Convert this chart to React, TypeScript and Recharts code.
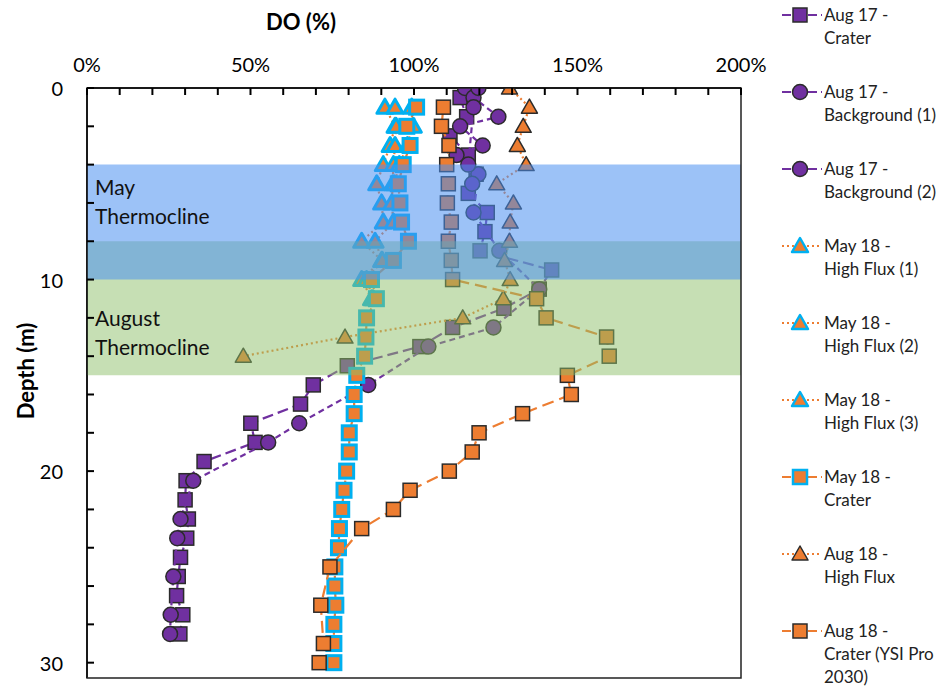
import React from 'react';
import { ScatterChart, Scatter, XAxis, YAxis, ReferenceArea, Label } from 'recharts';

// depth (m) / dissolved oxygen saturation (%) per cast
const AUG17_CRATER_DEPTH = [0.5, 1.5, 2.5, 3.5, 4.5, 5.5, 6.5, 7.5, 8.5, 9.5, 10.5, 11.5, 12.5, 13.5, 14.5, 15.5, 16.5, 17.5, 18.5, 19.5, 20.5, 21.5, 22.5, 23.5, 24.5, 25.5, 26.5, 27.5, 28.5];
const AUG17_CRATER_DO = [114.1, 116.1, 111, 116.6, 119, 116.6, 122.4, 121.7, 120.2, 142.1, 138.3, 127.5, 111.8, 101.8, 79.6, 69.2, 65.3, 50.1, 51.4, 35.8, 30.3, 30.0, 31.0, 30.5, 28.6, 27.9, 27.4, 29.3, 28.4];

const AUG17_BG1_DEPTH = [0, 0.5, 1.5, 2, 3, 3.5, 4.5, 6.5, 8.5, 10.5, 12.5, 13.5, 15.5, 17.5, 18.5, 20.5, 22.5, 23.5, 25.5, 27.5, 28.5];
const AUG17_BG1_DO = [115.6, 118.2, 125.8, 114.1, 121, 113, 119.7, 118.2, 126.1, 138.3, 124.3, 104.4, 86, 64.9, 55.4, 32.5, 28.6, 27.6, 26.4, 25.6, 25.4];

const AUG17_BG2_DEPTH = [0, 1, 4, 5];
const AUG17_BG2_DO = [119.7, 118.2, 116.6, 117.8];

const MAY18_HF1_DEPTH = [1, 2, 3, 4, 5, 6, 7, 8, 9, 10, 11];
const MAY18_HF1_DO = [91.1, 94.2, 92.7, 90.6, 88.6, 90.1, 90.6, 84.0, 90.1, 84.0, 87.0];

const MAY18_HF2_DEPTH = [1, 2, 3, 4, 5, 6, 7, 8, 9, 10, 11];
const MAY18_HF2_DO = [94.2, 94.5, 94.2, 93.7, 93.5, 93.2, 93.7, 88.1, 90.3, 85.5, 87.5];

const MAY18_HF3_DEPTH = [1, 2, 3, 4, 5];
const MAY18_HF3_DO = [99.3, 99.8, 98.0, 95.5, 94.0];

const MAY18_CRATER_DEPTH = [1, 2, 3, 4, 5, 6, 7, 8, 9, 10, 11, 12, 13, 14, 15, 16, 17, 18, 19, 20, 21, 22, 23, 24, 25, 26, 27, 28, 29, 30];
const MAY18_CRATER_DO = [100.8, 97.8, 98.8, 96.7, 95.2, 95.7, 96.2, 98.3, 93.7, 87, 88.5, 85.5, 85.3, 84.9, 82.5, 81.7, 81.7, 80.2, 80.2, 79.4, 78.6, 77.9, 77.2, 76.9, 75.8, 75.8, 76.1, 75.5, 75.5, 75.5];

const AUG18_HF_DEPTH = [0, 1, 2, 3, 4, 5, 6, 7, 8, 9, 10, 11, 12, 13, 14];
const AUG18_HF_DO = [129.2, 135.3, 133.4, 131.6, 134.3, 125.3, 130.4, 129.4, 129.2, 127.7, 129.4, 127.3, 114.9, 78.9, 47.8];

const AUG18_CRATER_DEPTH = [1, 2, 3, 4, 5, 6, 7, 8, 9, 10, 11, 12, 13, 14, 15, 16, 17, 18, 19, 20, 21, 22, 23, 25, 27, 29, 30];
const AUG18_CRATER_DO = [109, 108.4, 110.7, 110, 110.5, 110.2, 111.4, 110.5, 111.4, 111.8, 137.5, 140.4, 158.9, 159.7, 146.9, 148.1, 133.2, 119.9, 117.8, 110.8, 98.8, 93.7, 84.0, 74.3, 71.5, 72.3, 71.0];

const X_TICKS = [0, 10, 20, 30, 40, 50, 60, 70, 80, 90, 100, 110, 120, 130, 140, 150, 160, 170, 180, 190, 200];
const Y_TICKS = [0, 2, 4, 6, 8, 10, 12, 14, 16, 18, 20, 22, 24, 26, 28, 30];

const PURPLE = '#7030A0';
const ORANGE = '#ED7D31';
const BLUE = '#00B0F0';
const DARK = '#2b2b2b';
const FONT = 'Lato, "Open Sans", sans-serif';

const pairs = (depth: number[], dox: number[]) => depth.map((d, i) => ({ x: dox[i], y: d }));

type Marker = 'square' | 'circle' | 'triangle';

const series = [
  { key: 'a17c', name: ['Aug 17 -', 'Crater'], data: pairs(AUG17_CRATER_DEPTH, AUG17_CRATER_DO), marker: 'square' as Marker, fill: PURPLE, stroke: DARK, sw: 1.5, line: PURPLE, dash: '11 5' },
  { key: 'a17b1', name: ['Aug 17 -', 'Background (1)'], data: pairs(AUG17_BG1_DEPTH, AUG17_BG1_DO), marker: 'circle' as Marker, fill: PURPLE, stroke: DARK, sw: 1.5, line: PURPLE, dash: '6 4' },
  { key: 'a17b2', name: ['Aug 17 -', 'Background (2)'], data: pairs(AUG17_BG2_DEPTH, AUG17_BG2_DO), marker: 'circle' as Marker, fill: PURPLE, stroke: DARK, sw: 1.5, line: PURPLE, dash: '6 4' },
  { key: 'm18h1', name: ['May 18 -', 'High Flux (1)'], data: pairs(MAY18_HF1_DEPTH, MAY18_HF1_DO), marker: 'triangle' as Marker, fill: ORANGE, stroke: BLUE, sw: 3, line: ORANGE, dash: '2 3' },
  { key: 'm18h2', name: ['May 18 -', 'High Flux (2)'], data: pairs(MAY18_HF2_DEPTH, MAY18_HF2_DO), marker: 'triangle' as Marker, fill: ORANGE, stroke: BLUE, sw: 3, line: ORANGE, dash: '2 3' },
  { key: 'm18h3', name: ['May 18 -', 'High Flux (3)'], data: pairs(MAY18_HF3_DEPTH, MAY18_HF3_DO), marker: 'triangle' as Marker, fill: ORANGE, stroke: BLUE, sw: 3, line: ORANGE, dash: '2 3' },
  { key: 'm18c', name: ['May 18 -', 'Crater'], data: pairs(MAY18_CRATER_DEPTH, MAY18_CRATER_DO), marker: 'square' as Marker, fill: ORANGE, stroke: BLUE, sw: 3, line: ORANGE, dash: '11 5' },
  { key: 'a18h', name: ['Aug 18 -', 'High Flux'], data: pairs(AUG18_HF_DEPTH, AUG18_HF_DO), marker: 'triangle' as Marker, fill: ORANGE, stroke: DARK, sw: 1.5, line: ORANGE, dash: '2 3' },
  { key: 'a18c', name: ['Aug 18 -', 'Crater (YSI Pro', '2030)'], data: pairs(AUG18_CRATER_DEPTH, AUG18_CRATER_DO), marker: 'square' as Marker, fill: ORANGE, stroke: DARK, sw: 1.5, line: ORANGE, dash: '12 6' },
];

const drawMarker = (m: Marker, cx: number, cy: number, fill: string, stroke: string, sw: number) => {
  if (m === 'square') return <rect x={cx - 7} y={cy - 7} width={14} height={14} fill={fill} stroke={stroke} strokeWidth={sw} />;
  if (m === 'circle') return <circle cx={cx} cy={cy} r={7.5} fill={fill} stroke={stroke} strokeWidth={sw} />;
  return <polygon points={`${cx},${cy - 8} ${cx + 8},${cy + 6} ${cx - 8},${cy + 6}`} fill={fill} stroke={stroke} strokeWidth={sw} strokeLinejoin="round" />;
};

const TopTick = (props: any) => {
  const { x, y, payload } = props;
  const v = payload.value;
  return (
    <g>
      <line x1={x} y1={y} x2={x} y2={y + 7} stroke="#000" strokeWidth={2} />
      {v % 50 === 0 && (
        <text x={x} y={y - 24} textAnchor="middle" dominantBaseline="central" fontSize={20} fill="#000" fontFamily={FONT}>
          {v}%
        </text>
      )}
    </g>
  );
};

const LeftTick = (props: any) => {
  const { x, y, payload } = props;
  const v = payload.value;
  return (
    <g>
      <line x1={x} y1={y} x2={x + 7} y2={y} stroke="#000" strokeWidth={2} />
      {v % 10 === 0 && (
        <text x={x - 24} y={y} textAnchor="end" dominantBaseline="central" fontSize={20} fill="#000" fontFamily={FONT}>
          {v}
        </text>
      )}
    </g>
  );
};

const bandLabel = (lines: string[], dy: number) => (props: any) => {
  const { viewBox } = props;
  return (
    <text x={viewBox.x + 8} y={viewBox.y + dy} fontSize={21} fill="#111" fontFamily={FONT}>
      {lines.map((l, i) => (
        <tspan key={l} x={viewBox.x + 8} dy={i === 0 ? 0 : 29}>{l}</tspan>
      ))}
    </text>
  );
};

const LegendBlock = () => (
  <div style={{ position: 'absolute', left: 780, top: 0, fontFamily: FONT, fontSize: 17, color: '#222' }}>
    {series.map((s, i) => (
      <div key={s.key} style={{ position: 'absolute', top: 3 + i * 77, left: 0, width: 166 }}>
        <svg width={44} height={24} style={{ position: 'absolute', left: 0, top: 0 }}>
          <line x1={2} y1={12} x2={42} y2={12} stroke={s.line} strokeWidth={2} strokeDasharray={s.dash === '2 3' ? '2 3' : '9 4'} />
          {drawMarker(s.marker, 20, 12, s.fill, s.stroke, s.sw === 3 ? 2.5 : 1.5)}
        </svg>
        <div style={{ position: 'absolute', left: 44, top: 0, lineHeight: '23px', whiteSpace: 'nowrap' }}>
          {s.name.map((t) => (
            <div key={t}>{t}</div>
          ))}
        </div>
      </div>
    ))}
  </div>
);

export default function App() {
  return (
    <div style={{ position: 'absolute', left: 0, top: 0, width: 946, height: 694, background: '#fff' }}>
      <ScatterChart width={946} height={694} margin={{ top: 48, right: 205, bottom: 16, left: 27 }}>
        <XAxis
          type="number"
          dataKey="x"
          orientation="top"
          domain={[0, 200]}
          ticks={X_TICKS}
          interval={0}
          height={40}
          tickSize={0}
          tickMargin={0}
          tick={<TopTick />}
          axisLine={{ stroke: '#000', strokeWidth: 2 }}
        >
          <Label
            content={(p: any) => (
              <text x={301} y={21} textAnchor="middle" dominantBaseline="central" fontSize={22} fontWeight="bold" fill="#000" fontFamily={FONT}>
                DO (%)
              </text>
            )}
          />
        </XAxis>
        <YAxis
          type="number"
          dataKey="y"
          reversed
          domain={[0, 30.8]}
          ticks={Y_TICKS}
          interval={0}
          width={60}
          tickSize={0}
          tickMargin={0}
          tick={<LeftTick />}
          axisLine={{ stroke: '#000', strokeWidth: 2 }}
          allowDataOverflow
        >
          <Label
            content={(p: any) => (
              <text x={25} y={371} textAnchor="middle" dominantBaseline="central" fontSize={22} fontWeight="bold" fill="#000" fontFamily={FONT} transform="rotate(-90, 25, 371)">
                Depth (m)
              </text>
            )}
          />
        </YAxis>
        {series.map((s) => (
          <Scatter
            key={s.key}
            name={s.name.join(' ')}
            data={s.data}
            isAnimationActive={false}
            line={{ stroke: s.line, strokeWidth: 2.2, strokeDasharray: s.dash }}
            lineType="joint"
            shape={(p: any) => drawMarker(s.marker, p.cx, p.cy, s.fill, s.stroke, s.sw)}
          />
        ))}
        <ReferenceArea x1={0} x2={200} y1={8} y2={15} fill="#8DC06A" fillOpacity={0.5} stroke="none" ifOverflow="visible" zIndex={700} label={bandLabel(['August', 'Thermocline'], 85)} />
        <ReferenceArea x1={0} x2={200} y1={4} y2={10} fill="#4A90F0" fillOpacity={0.55} stroke="none" ifOverflow="visible" zIndex={710} label={bandLabel(['May', 'Thermocline'], 30)} />
        <ReferenceArea x1={0} x2={200} y1={0} y2={30.8} fill="none" stroke="#222" strokeWidth={1.5} ifOverflow="visible" zIndex={720} />
      </ScatterChart>
      <LegendBlock />
    </div>
  );
}
